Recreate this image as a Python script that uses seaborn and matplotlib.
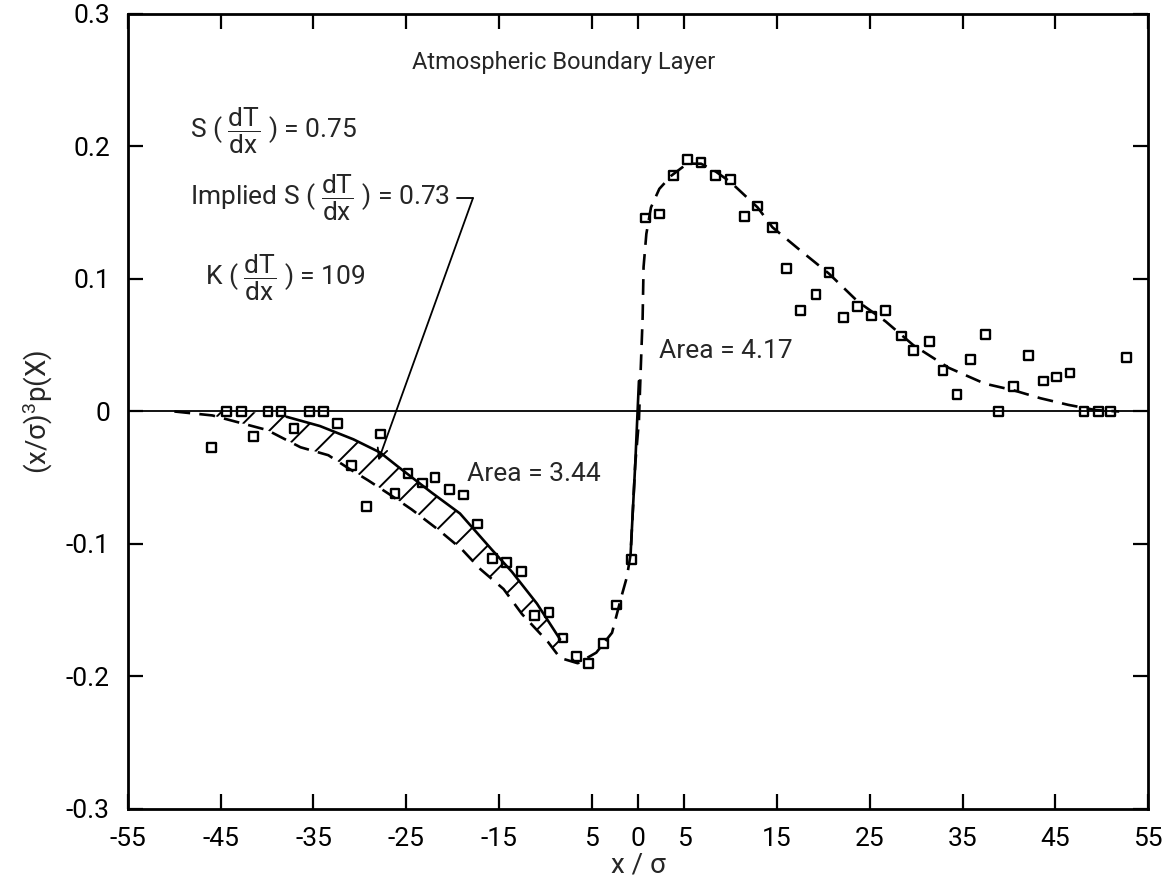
import numpy as np
import pandas as pd
import matplotlib
matplotlib.use("Agg")
import matplotlib.pyplot as plt
import seaborn as sns

# ---------------- data ----------------
# measured points (open squares)
obs_x = [-46.0, -44.4, -42.8, -41.5, -39.9, -38.5, -37.1, -35.4, -33.9, -32.4,
         -30.9, -29.3, -27.8, -26.2, -24.8, -23.2, -21.9, -20.3, -18.8, -17.3,
         -15.7, -14.2, -12.6, -11.2, -9.6, -8.1, -6.6, -5.3, -3.7, -2.3, -0.7,
         0.8, 2.3, 3.8, 5.3, 6.8, 8.4, 10.0, 11.5, 12.9, 14.5, 16.0, 17.5,
         19.2, 20.6, 22.2, 23.7, 25.2, 26.7, 28.4, 29.7, 31.4, 32.9, 34.4,
         35.9, 37.5, 38.9, 40.5, 42.1, 43.7, 45.1, 46.6, 48.1, 49.7, 51.0, 52.7]
obs_y = [-0.027, 0.0, 0.0, -0.019, 0.0, 0.0, -0.013, 0.0, 0.0, -0.009,
         -0.041, -0.072, -0.017, -0.062, -0.047, -0.054, -0.050, -0.059, -0.063, -0.085,
         -0.111, -0.114, -0.121, -0.154, -0.152, -0.171, -0.185, -0.190, -0.175, -0.146, -0.112,
         0.146, 0.149, 0.178, 0.190, 0.188, 0.178, 0.175, 0.147, 0.155, 0.139, 0.108, 0.076,
         0.088, 0.105, 0.071, 0.079, 0.072, 0.076, 0.057, 0.046, 0.053, 0.031, 0.013,
         0.039, 0.058, 0.0, 0.019, 0.042, 0.023, 0.026, 0.029, 0.0, 0.0, 0.0, 0.041]

# model curve (dashed)
model_x = [-50.0, -45.9, -40.0, -36.4, -33.4, -31.2, -29.1, -26.7, -24.4, -21.4,
           -19.0, -17.0, -14.5, -12.5, -9.7, -8.4, -6.5, -4.5, -2.8, -1.8,
           -1.2, -0.8, -0.3, 0.1, 0.3, 0.5, 0.6, 0.9, 1.4, 2.3, 3.6, 5.3, 6.8,
           8.4, 10.0, 12.9, 14.5, 17.6, 20.6, 23.7, 26.7, 29.7, 33.5, 37.4,
           40.5, 43.4, 46.4, 49.4, 51.9]
model_y = [0.0, -0.003, -0.014, -0.027, -0.033, -0.043, -0.052, -0.063, -0.074, -0.090,
           -0.104, -0.119, -0.134, -0.153, -0.174, -0.186, -0.190, -0.182, -0.167, -0.140,
           -0.125, -0.108, -0.040, -0.007, 0.033, 0.071, 0.109, 0.134, 0.154, 0.168, 0.178, 0.187, 0.187,
           0.181, 0.173, 0.154, 0.139, 0.121, 0.104, 0.083, 0.068, 0.050, 0.033, 0.021,
           0.016, 0.010, 0.005, 0.001, 0.0]

# solid steep segment near the origin
steep_x = [-0.8, -0.3, 0.1]
steep_y = [-0.108, -0.040, 0.023]

# implied curve (solid, upper edge of the hatched band)
implied_x = [-37.9, -34.3, -30.7, -27.8, -26.0, -22.3, -19.2, -15.8, -13.6, -10.9, -8.4]
implied_y = [-0.004, -0.011, -0.021, -0.031, -0.041, -0.061, -0.077, -0.104, -0.121, -0.145, -0.172]

# hatched band: upper edge (zero then implied curve), lower edge (model curve)
band_top_x = [-47.0, -42.0] + implied_x + [-6.8]
band_top_y = [0.0, 0.0] + implied_y + [-0.188]
band_bot_x = [-47.0, -45.9, -40.0, -36.4, -33.4, -31.2, -29.1, -26.7, -24.4, -21.4,
              -19.0, -17.0, -14.5, -12.5, -9.7, -8.4, -6.8]
band_bot_y = [-0.002, -0.003, -0.014, -0.027, -0.033, -0.043, -0.052, -0.063, -0.074, -0.090,
              -0.104, -0.119, -0.134, -0.153, -0.174, -0.186, -0.188]

xtick_pos = [-55, -45, -35, -25, -15, -5, 0, 5, 15, 25, 35, 45, 55]
xtick_lab = ["-55", "-45", "-35", "-25", "-15", "5", "0", "5", "15", "25", "35", "45", "55"]
ytick_pos = [-0.3, -0.2, -0.1, 0.0, 0.1, 0.2, 0.3]
ytick_lab = ["-0.3", "-0.2", "-0.1", "0", "0.1", "0.2", "0.3"]

# ---------------- style ----------------
sns.set_theme(style="ticks")
FONT = "Roboto"
plt.rcParams["font.family"] = [FONT, "DejaVu Sans"]
plt.rcParams["mathtext.fontset"] = "custom"
plt.rcParams["mathtext.rm"] = FONT
plt.rcParams["mathtext.it"] = FONT + ":italic"
plt.rcParams["mathtext.bf"] = FONT + ":bold"
plt.rcParams["hatch.linewidth"] = 1.4
plt.rcParams["hatch.color"] = "black"

fig = plt.figure(figsize=(11.67, 8.89), dpi=100)
ax = fig.add_axes([0.1097, 0.0900, 0.8740, 0.8943])

ax.axhline(0, color="black", lw=1.3, zorder=1)

# hatched band
poly_x = np.concatenate([band_top_x, band_bot_x[::-1]])
poly_y = np.concatenate([band_top_y, band_bot_y[::-1]])
ax.fill(poly_x, poly_y, facecolor="none", edgecolor="black", linewidth=0,
        hatch="/", zorder=1)

dash = (0, (6, 3.5))
sns.lineplot(x=model_x, y=model_y, ax=ax, color="black", lw=1.9,
             linestyle=dash, sort=False, estimator=None, zorder=2)
sns.lineplot(x=steep_x, y=steep_y, ax=ax, color="black", lw=1.9,
             sort=False, estimator=None, zorder=2)
sns.lineplot(x=implied_x, y=implied_y, ax=ax, color="black", lw=1.9,
             sort=False, estimator=None, zorder=2)

sns.scatterplot(x=obs_x, y=obs_y, ax=ax, marker="s", s=40,
                facecolors="none", edgecolor="black", linewidth=1.7, zorder=3)

ax.set_xlim(-55, 55)
ax.set_ylim(-0.3, 0.3)
ax.set_xticks(xtick_pos)
ax.set_xticklabels(xtick_lab)
ax.set_yticks(ytick_pos)
ax.set_yticklabels(ytick_lab)
ax.tick_params(direction="in", length=11, width=1.6, top=True, right=True,
               labelsize=19, colors="black")
ax.tick_params(axis="x", pad=13)
ax.tick_params(axis="y", pad=13)
for sp in ax.spines.values():
    sp.set_linewidth(2.0)
    sp.set_color("black")
    sp.set_visible(True)

ax.set_xlabel("x / σ", fontsize=20, labelpad=0)
ax.set_ylabel(r"(x/σ)$^{3}$p(X)", fontsize=20, labelpad=8)

# annotations
ax.text(-24.4, 0.263, "Atmospheric Boundary Layer", fontsize=17, ha="left", va="center")
frac = r"$\dfrac{\mathrm{dT}}{\mathrm{dx}}$"
ax.text(-48.3, 0.212, "S ( " + frac + " ) = 0.75", fontsize=19, ha="left", va="center")
ax.text(-48.3, 0.161, "Implied S ( " + frac + " ) = 0.73", fontsize=19, ha="left", va="center")
ax.text(-46.7, 0.101, "K ( " + frac + " ) = 109", fontsize=19, ha="left", va="center")
ax.text(-18.4, -0.047, "Area = 3.44", fontsize=19, ha="left", va="center")
ax.text(2.3, 0.046, "Area = 4.17", fontsize=19, ha="left", va="center")

ax.plot([-19.5, -17.8], [0.161, 0.161], color="black", lw=1.3)
ax.annotate("", xy=(-28.0, -0.037), xytext=(-17.8, 0.161),
            arrowprops=dict(arrowstyle="->", color="black", lw=1.3,
                            mutation_scale=18, shrinkA=0, shrinkB=0))

fig.savefig("out.png", dpi=100, facecolor="white")
